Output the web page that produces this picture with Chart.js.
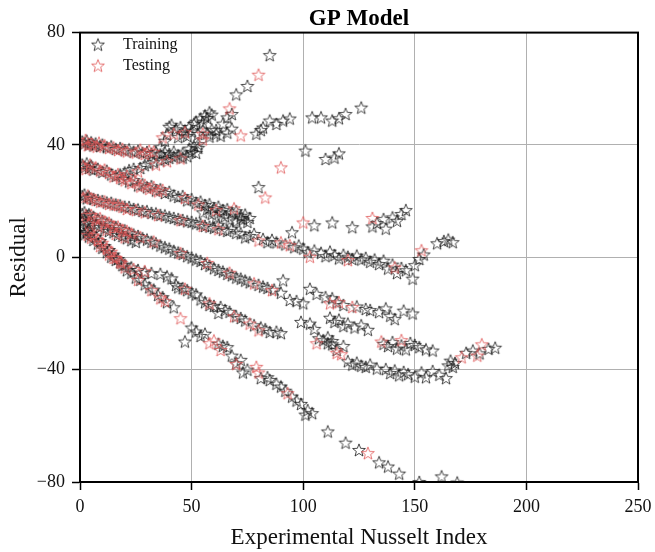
<!DOCTYPE html>
<html>
<head>
<meta charset="utf-8">
<script src="https://cdn.jsdelivr.net/npm/chart.js@4/dist/chart.umd.min.js"></script>
<style>
  html, body { margin: 0; padding: 0; background: #fff; }
  #wrap { width: 655px; height: 552px; }
</style>
</head>
<body>
<div id="wrap"><canvas id="chart" width="655" height="552"></canvas></div>
<script>
// Residuals of the GP model against the experimental Nusselt index.
const chartTitle = 'GP Model';
const xTitle = 'Experimental Nusselt Index';
const yTitle = 'Residual';
const seriesNames = ['Training', 'Testing'];
const xTicks = [0, 50, 100, 150, 200, 250];
const yTicks = [-80, -40, 0, 40, 80];

// [Experimental Nusselt index, residual]
const trainingPoints = [
  // upper band near 40
  [1,41.2],[2,40.6],[3,41.5],[4,40.2],[5,40.9],[6,39.8],[7,40.5],[9,39.6],[10,40.1],[12,39.2],[14,39.5],[16,38.6],[18,38.9],[20,38.1],[22,38.4],[24,37.6],[26,37.9],[28,37.2],[30,37.5],[32,36.9],[34,37.4],[36,36.6],[38,37.3],[40,36.8],[42,37.6],
  [36,39.2],[38,41.5],[39,43.8],[40,46.5],[41,47.2],[43,45.6],[45,46.3],[47,45.1],[49,46.4],[51,47.5],[52,48.3],[54,49.4],[55,48.0],[56,50.5],[57,49.6],[58,51.6],[59,50.8],
  [44,42.8],[46,44.0],[48,43.2],[50,44.8],[53,43.9],[55,45.2],[57,44.1],[59,45.5],[61,44.0],[63,43.3],[66,44.4],[68,45.8],[79,44.0],[81,45.3],[82,46.2],[85,48.7],[88,47.5],[91,48.7],[94,49.4],[104,49.8],[108,49.8],[113,48.7],[116,49.5],[119,51.0],[126,53.3],
  [46,35.5],[48,36.0],[50,37.5],[52,37.2],[53,39.0],[58,43.0],[61,45.3],[64,47.6],[66,49.8],[68,51.0],[70,58.0],[75,61.0],[85,72.0],
  [101,38.0],[110,35.0],[114,35.5],[116,37.0],
  // band starting near 33
  [1,33.0],[2,32.1],[3,33.4],[4,31.8],[5,32.6],[6,31.2],[8,31.5],[10,30.4],[12,30.8],[14,29.5],[16,29.0],[19,27.9],[22,27.0],[24,27.5],[26,25.6],[28,26.0],[30,24.9],[32,25.3],[34,23.8],[36,24.2],[38,22.9],[40,23.3],[42,22.0],[44,21.5],[46,21.8],[48,20.3],[50,20.7],[52,19.4],[54,19.8],[56,18.6],[58,18.9],[60,17.5],[62,18.0],[64,16.8],[66,17.1],[68,15.9],[70,16.4],[72,14.8],[74,15.2],[73,13.5],
  [18,29.5],[20,30.2],[22,31.0],[24,31.5],[27,31.8],[29,32.8],[31,33.4],[33,33.9],[36,34.5],[38,35.0],[40,35.4],[42,35.8],[44,36.3],[46,37.0],[49,38.7],[51,39.6],[53,40.3],
  [80,25.0],
  [55,16.0],[57,17.2],[59,15.5],[61,14.2],[63,16.0],[65,14.6],[67,13.4],[70,12.8],[72,13.9],[75,12.6],[76,14.0],
  // band starting near 22
  [1,21.8],[2,22.3],[3,21.0],[4,21.6],[6,20.8],[8,20.4],[10,20.0],[12,19.5],[14,19.4],[16,18.8],[18,18.5],[20,18.0],[22,17.9],[24,17.2],[26,17.0],[28,16.5],[30,16.4],[32,15.8],[34,15.6],[36,15.1],[38,14.9],[40,14.3],[42,14.0],[44,13.6],[46,13.3],[48,12.8],[50,12.6],[52,12.1],[54,11.8],[56,11.2],[58,10.9],[60,10.5],[62,11.6],[64,9.8],[66,9.4],[68,10.2],[70,8.7],[72,8.5],[74,7.1],[76,7.6],[78,8.3],[82,6.5],[84,5.4],[86,6.2],[88,5.3],[92,4.6],[95,8.9],[96,3.6],[98,4.2],[100,3.1],[102,1.8],[105,2.4],[108,1.6],[110,0.4],[112,2.0],[114,0.8],[116,-0.4],[118,0.9],[120,0.2],[122,-0.6],[124,0.6],[126,-0.8],[128,-0.2],[130,-1.6],[132,-0.8],[134,-2.4],[136,-1.2],[138,-4.0],[140,-2.6],[142,-5.6],[144,-3.8],[146,-4.6],[149,-7.6],[150,-2.8],[152,-0.6],[154,1.0],[160,5.0],[163,5.8],[165,6.3],[167,5.4],
  [105,11.4],[113,12.4],[122,10.7],[131,11.0],[133,12.2],[136,13.6],[137,10.2],[142,13.0],[144,15.4],[146,16.8],[140,14.2],
  // band starting near 16
  [1,15.4],[2,16.0],[3,14.8],[4,15.3],[6,14.4],[8,13.5],[10,13.0],[12,12.1],[14,11.6],[16,10.8],[18,10.1],[20,9.6],[22,8.7],[24,8.1],[26,7.6],[28,6.8],[30,6.3],[32,5.5],[34,5.0],[36,4.2],[38,3.6],[40,3.1],[42,2.3],[44,1.7],[46,1.2],[48,0.4],[50,-0.1],[52,-0.8],[54,-1.3],[56,-2.4],[58,-3.0],[60,-3.9],[62,-4.5],[64,-5.1],[66,-5.9],[68,-6.4],[70,-7.2],[72,-7.6],[74,-8.3],[76,-8.9],[80,-9.8],[82,-10.4],[84,-10.9],[87,-11.5],[90,-12.6],[91,-8.2],[94,-15.2],[97,-15.6],[100,-16.4],[103,-11.2],[106,-13.0],[110,-14.2],[113,-14.6],[115,-16.0],[118,-17.0],[124,-17.5],[128,-18.4],[130,-18.8],[134,-19.5],[137,-18.2],[139,-20.8],[141,-22.0],[145,-19.0],[149,-20.0],
  [1,12.8],[2,13.4],[3,12.2],[5,12.6],[7,11.5],[9,10.8],[11,10.2],[13,9.4],[15,8.9],[17,8.0],[19,7.6],[21,6.8],[23,6.1],[25,5.5],
  // band starting near 9, ending in the cluster near -35
  [2,8.2],[3,8.9],[4,7.4],[6,6.2],[8,4.9],[10,3.4],[12,1.8],[14,0.2],[16,-0.9],[18,-1.8],[20,-2.6],[23,-3.6],[26,-4.5],[29,-5.3],[32,-5.6],[36,-5.9],[39,-6.8],[41,-7.5],[43,-9.8],[44,-10.7],[46,-11.0],[48,-11.7],[50,-12.6],[52,-13.2],[54,-15.0],[56,-16.0],[58,-17.0],[60,-17.3],[62,-19.8],[63,-17.7],[65,-18.8],[67,-19.4],[70,-21.0],[72,-21.6],[74,-22.5],[78,-24.2],[81,-25.0],[83,-25.6],[85,-26.6],[88,-26.5],[90,-27.0],[99,-23.0],[103,-23.6],[105,-25.5],[107,-28.8],[109,-29.5],[111,-30.6],[113,-29.8],[115,-33.0],[118,-31.6],[120,-37.0],[122,-38.2],[124,-37.5],[126,-38.6],[128,-39.0],[130,-38.2],[133,-39.6],[136,-30.8],[138,-31.6],[140,-30.2],[142,-32.5],[144,-31.4],[146,-32.8],[148,-30.5],[150,-31.2],[152,-32.0],[155,-32.8],[158,-33.2],[137,-39.8],[139,-41.2],[141,-40.3],[143,-42.0],[145,-40.8],[147,-41.6],[150,-42.5],[153,-41.0],[155,-42.7],[158,-40.5],[161,-41.8],[164,-43.0],[165,-38.5],[166,-36.8],[167,-39.0],[168,-37.6],[173,-34.0],[176,-33.2],[179,-34.2],[183,-32.6],[186,-32.2],
  [112,-21.5],[114,-23.0],[116,-22.2],[118,-24.5],[120,-23.6],[123,-25.0],[126,-24.2],[129,-25.8],[111,-28.5],[113,-31.0],
  // steepest band
  [2,10.2],[3,9.1],[4,9.8],[5,8.4],[7,7.3],[9,5.8],[11,4.0],[13,2.6],[15,1.0],[17,-0.6],[19,-2.8],[21,-4.6],[23,-5.5],[25,-7.2],[27,-8.0],[29,-9.6],[31,-10.7],[33,-11.5],[35,-13.4],[37,-14.2],[39,-16.0],[42,-17.8],[47,-30.0],[50,-25.0],[52,-26.4],[54,-28.0],[56,-27.2],[62,-30.8],[64,-31.5],[66,-32.0],[68,-35.0],[70,-37.7],[72,-36.5],[75,-40.0],[73,-41.0],[81,-43.0],[84,-42.7],[85,-43.7],[88,-45.0],[90,-46.0],[92,-47.5],[95,-49.6],[97,-51.0],[99,-52.2],[102,-54.4],[104,-55.5],[101,-56.0],[111,-62.0],[119,-66.0],[125,-68.6],[134,-73.0],[138,-74.5],[143,-77.0],[152,-80.0],[162,-78.0],[169,-80.2]
];

const testingPoints = [
  [1.5,40.5],[2.5,41.8],[3.5,39.9],[5.5,40.3],[7.5,39.4],[8.5,40.8],[11,39.9],[13,38.9],[15,39.1],[17,38.2],[19,38.6],[21,37.7],[25,37.3],[27,38.3],[29,36.8],[31,37.9],[33,37.6],
  [37,42.7],[42,44.0],[47,44.5],[55,44.0],[72,43.4],[55,42.0],[67,53.0],[80,65.0],[90,32.0],
  [1.5,32.5],[2.5,31.4],[4.5,33.0],[7,32.0],[9,30.9],[11,31.2],[13,30.0],[15,28.8],[17,29.6],[18,28.2],[20,27.4],[23,26.4],[25,27.0],[27,25.2],[29,25.8],[31,24.4],[33,25.0],[35,23.5],[37,24.0],[47,21.1],[53,18.8],[61,16.8],[69,17.4],[83,21.3],
  [21,29.0],[26,30.6],[34,33.0],[39,34.2],[45,35.2],
  [1.5,21.2],[3.5,22.0],[5,21.0],[7,20.4],[9,19.8],[11,19.9],[13,19.0],[15,18.8],[17,18.6],[19,18.0],[21,17.2],[25,16.8],[29,16.0],[35,15.0],[45,13.2],[55,11.2],[62,10.0],[80,6.0],[90,5.3],[94,4.3],[103,0.2],[120,-1.0],[141,-3.6],[153,2.5],
  [100,12.4],[131,14.0],
  [2.5,15.0],[5,15.1],[7,13.8],[9,13.9],[11,12.8],[13,12.3],[15,11.0],[17,10.9],[19,9.8],[21,9.4],[23,8.5],[27,7.2],[33,5.6],[45,1.5],[57,-2.0],[67,-5.5],[78,-9.3],[86,-11.7],[112,-16.4],[122,-17.7],[116,-16.0],
  [4,12.0],[8,11.0],[12,9.8],[16,8.3],[20,7.1],
  [5,7.0],[9,4.0],[13,1.0],[15,-0.2],[18.5,-2.0],[24,-4.2],[29,-4.9],[47,-11.2],[58,-16.4],[69,-21.0],[76,-23.6],[80,-26.0],[106,-30.6],[115,-34.0],[117,-34.5],[135,-30.0],[144,-29.5],[171,-35.6],[178,-35.0],[180,-31.0],
  [3.5,8.0],[6,7.8],[8,6.2],[10,5.2],[12,3.1],[14,2.0],[16,-0.2],[18,-1.5],[20,-3.6],[26,-8.0],[32,-11.7],[36,-14.6],[38,-15.5],[45,-21.7],[58,-30.6],[60,-29.6],[63,-33.0],[70,-38.0],[79,-39.0],[80,-41.0],[93,-48.4],[129,-69.7]
];

const serif = "'Liberation Serif', 'Times New Roman', serif";
const trainColor = '#1a1a1a';
const testColor = 'rgb(224,86,86)';

// Hollow five-pointed star used as the marker
function makeStar(color) {
  const size = 16;
  const c = document.createElement('canvas');
  c.width = size; c.height = size;
  const g = c.getContext('2d');
  const R = 6.7, r = R * 0.42, cx = size / 2, cy = size / 2 + 0.6;
  g.beginPath();
  for (let i = 0; i < 10; i++) {
    const rad = i % 2 === 0 ? R : r;
    const a = -Math.PI / 2 + i * Math.PI / 5;
    const px = cx + rad * Math.cos(a), py = cy + rad * Math.sin(a);
    if (i === 0) g.moveTo(px, py); else g.lineTo(px, py);
  }
  g.closePath();
  g.lineWidth = 0.8;
  g.strokeStyle = color;
  g.stroke();
  return c;
}
const trainStar = makeStar(trainColor);
const testStar = makeStar(testColor);

const toXY = pts => pts.map(([x, y]) => ({ x, y }));
const minusLabel = v => (v < 0 ? '\u2212' + Math.abs(v) : String(v));

// Frame around the plotting area plus the in-plot legend
const framePlugin = {
  id: 'frameAndLegend',
  afterDatasetsDraw(chart) {
    const { ctx, chartArea: a } = chart;
    ctx.save();
    ctx.strokeStyle = '#000';
    ctx.lineWidth = 2;
    ctx.strokeRect(a.left, a.top, a.right - a.left, a.bottom - a.top);
    const stars = [trainStar, testStar];
    ctx.font = '16px ' + serif;
    ctx.fillStyle = '#111';
    ctx.textBaseline = 'middle';
    ctx.textAlign = 'left';
    seriesNames.forEach((name, i) => {
      const yy = a.top + 12 + i * 21;
      ctx.drawImage(stars[i], a.left + 18 - 8, yy - 8);
      ctx.fillText(name, a.left + 43, yy);
    });
    ctx.restore();
  }
};

new Chart(document.getElementById('chart'), {
  type: 'scatter',
  data: {
    datasets: [
      { label: seriesNames[0], data: toXY(trainingPoints), pointStyle: trainStar, pointRadius: 6, order: 2, clip: 0 },
      { label: seriesNames[1], data: toXY(testingPoints), pointStyle: testStar, pointRadius: 6, order: 1, clip: 0 }
    ]
  },
  options: {
    responsive: false,
    animation: false,
    devicePixelRatio: 1,
    layout: { padding: { left: 0, right: 17, top: 0, bottom: 0 } },
    plugins: {
      legend: { display: false },
      tooltip: { enabled: false },
      title: {
        display: true, text: chartTitle, fullSize: false, color: '#000',
        font: { family: serif, size: 23, weight: 'bold', lineHeight: 1.2 },
        padding: { top: 5, bottom: 0 }
      }
    },
    scales: {
      x: {
        type: 'linear', min: xTicks[0], max: xTicks[xTicks.length - 1],
        afterBuildTicks: s => { s.ticks = xTicks.map(v => ({ value: v })); },
        ticks: { color: '#111', font: { family: serif, size: 18 }, padding: 6, maxRotation: 0, callback: minusLabel },
        grid: { color: '#b0b0b0', lineWidth: 1, tickColor: '#000', tickLength: 8, tickWidth: 1.5 },
        border: { color: '#000', width: 2 },
        title: { display: true, text: xTitle, color: '#111', font: { family: serif, size: 23, lineHeight: 1.2 }, padding: { top: 0, bottom: 0 } },
        afterFit: s => { s.height = 70; s.paddingLeft = 0; s.paddingRight = 0; }
      },
      y: {
        type: 'linear', min: yTicks[0], max: yTicks[yTicks.length - 1],
        afterBuildTicks: s => { s.ticks = yTicks.map(v => ({ value: v })); },
        ticks: { color: '#111', font: { family: serif, size: 18 }, padding: 7, callback: minusLabel },
        grid: { color: '#b0b0b0', lineWidth: 1, tickColor: '#000', tickLength: 8, tickWidth: 1.5 },
        border: { color: '#000', width: 2 },
        title: { display: true, text: yTitle, color: '#111', font: { family: serif, size: 23, lineHeight: 1.2 }, padding: { top: 5, bottom: 0 } },
        afterFit: s => { s.width = 80; }
      }
    }
  },
  plugins: [framePlugin]
});
</script>
</body>
</html>
